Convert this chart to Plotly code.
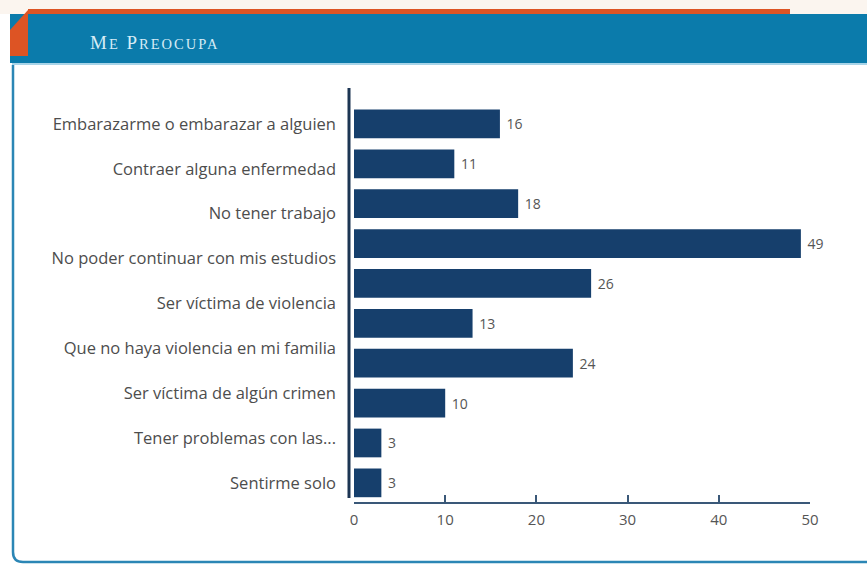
import plotly.graph_objects as go

# Data (bars top to bottom)
VALUES = [16, 11, 18, 49, 26, 13, 24, 10, 3, 3]
# the picture shows nine labels spread evenly along the ten bars
LABELS = [
    'Embarazarme o embarazar a alguien',
    'Contraer alguna enfermedad',
    'No tener trabajo',
    'No poder continuar con mis estudios',
    'Ser víctima de violencia',
    'Que no haya violencia en mi familia',
    'Ser víctima de algún crimen',
    'Tener problemas con las...',
    'Sentirme solo',
]
TICKS = [0, 10, 20, 30, 40, 50]
TITLE = 'Me Preocupa'

W, H = 867, 565
L, R, T, B = 354, 810, 88, 502

BAR = '#163f6c'
GREY = '#555555'
BLUE = '#0b7bab'
ORANGE = '#dd5424'


def px(x):
    return (x - L) / (R - L)


def py(y):
    return (B - y) / (B - T)


def small_caps(s, small=14.5):
    out = []
    for word in s.split():
        out.append(word[0].upper() +
                   f"<span style='font-size:{small}px'>{word[1:].upper()}</span>")
    return f"<span style='letter-spacing:2px'>{' '.join(out)}</span>"


n_bars = len(VALUES)
bar_pos = list(range(n_bars))
label_pos = [i * (n_bars - 1) / (len(LABELS) - 1) for i in range(len(LABELS))]

fig = go.Figure(go.Bar(
    x=VALUES, y=bar_pos, orientation='h',
    marker=dict(color=BAR, line=dict(width=0)),
    text=[str(v) for v in VALUES], texttemplate=' %{text}', textposition='outside',
    textfont=dict(size=14, color=GREY, family='Open Sans'),
    cliponaxis=False, hoverinfo='x',
))

shapes = [
    # cream strip at very top
    dict(type='rect', xref='paper', yref='paper', x0=px(0), x1=px(W), y0=py(0), y1=py(14),
         fillcolor='#fbf5ef', line=dict(width=0), layer='below'),
    # orange line
    dict(type='rect', xref='paper', yref='paper', x0=px(28), x1=px(790), y0=py(9), y1=py(14),
         fillcolor=ORANGE, line=dict(width=0), layer='below'),
    # blue header band
    dict(type='rect', xref='paper', yref='paper', x0=px(10), x1=px(W), y0=py(14), y1=py(63),
         fillcolor=BLUE, line=dict(width=0), layer='below'),
    # light line under band
    dict(type='line', xref='paper', yref='paper', x0=px(12), x1=px(W), y0=py(64), y1=py(64),
         line=dict(color='#a8d4e8', width=2), layer='below'),
    # orange tab
    dict(type='path', xref='paper', yref='paper',
         path=f'M {px(10)},{py(30)} L {px(28)},{py(10)} L {px(28)},{py(56)} L {px(10)},{py(56)} Z',
         fillcolor=ORANGE, line=dict(width=0), layer='below'),
    # panel border left + bottom
    dict(type='path', xref='paper', yref='paper',
         path=(f'M {px(13)},{py(65)} L {px(13)},{py(552)} '
               f'Q {px(13)},{py(562)} {px(23)},{py(562)} L {px(W)},{py(562)}'),
         line=dict(color='#2b86b5', width=2.5), layer='below'),
    # y axis line
    dict(type='line', xref='paper', yref='paper', x0=px(349), x1=px(349), y0=py(88), y1=py(498),
         line=dict(color='#1c3553', width=3)),
]

fig.update_layout(
    width=W, height=H,
    margin=dict(l=L, r=W - R, t=T, b=H - B),
    paper_bgcolor='white', plot_bgcolor='white',
    showlegend=False, bargap=0.28,
    font=dict(family='Open Sans', color=GREY, size=12),
    shapes=shapes,
    annotations=[dict(
        xref='paper', yref='paper', x=px(88), y=py(43), xanchor='left', yanchor='middle',
        showarrow=False, text=small_caps(TITLE),
        font=dict(family='Liberation Serif', size=19, color='#d6ecf6'),
    )],
    xaxis=dict(
        range=[0, 50], tickvals=TICKS, showgrid=False, zeroline=False,
        showline=True, linecolor='#3a5878', linewidth=2,
        ticks='inside', ticklen=7, tickwidth=2, tickcolor='#3a5878',
        tickfont=dict(size=15, color=GREY), ticklabelstandoff=3,
    ),
    yaxis=dict(
        range=[9.48, -0.9], showgrid=False, zeroline=False, showline=False,
        tickvals=label_pos, ticktext=LABELS,
        ticks='', tickfont=dict(size=16.5, color='#4d4d4d'), ticklabelstandoff=17,
    ),
)

fig.write_html('out.html', config={'displayModeBar': False},
               post_script="document.body.style.margin='0';")
